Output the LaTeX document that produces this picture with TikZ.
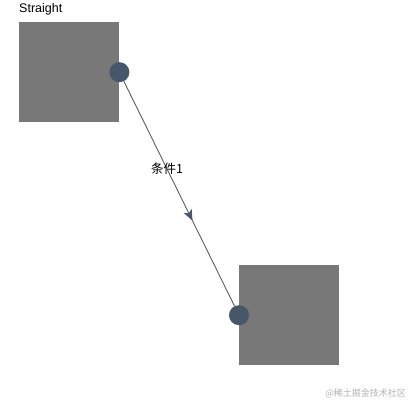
\documentclass[tikz,border=0pt]{standalone}
\usepackage{fontspec}
\setmainfont{Liberation Sans}
\newfontfamily\cjk{Noto Sans CJK SC}
\usetikzlibrary{arrows.meta,decorations.markings}
\definecolor{boxgray}{HTML}{787878}
\definecolor{portblue}{HTML}{48566A}
\definecolor{linkgray}{HTML}{5C5C66}
\tikzset{
  box/.style={rectangle, fill=boxgray, minimum size=100pt, inner sep=0pt, anchor=north west},
  port/.style={circle, fill=portblue, minimum size=20pt, inner sep=0pt},
  link/.style={linkgray, line width=0.9pt,
    postaction={decorate, decoration={markings,
      mark=at position 0.62 with {\arrow[portblue]{Stealth[length=11pt,width=9pt,inset=3pt]}}}}}
}
\begin{document}
\begin{tikzpicture}[x=1pt,y=-1pt]
  \useasboundingbox (0,0) rectangle (418,409);
  \node[anchor=base west, inner sep=0pt, font=\fontsize{12.5}{14}\selectfont] (title) at (19,12.5) {Straight};
  \node[box] (A) at (19,22) {};
  \node[box] (B) at (239,265) {};
  \node[port] (pA) at (A.east) {};
  \node[port] (pB) at (B.west) {};
  \draw[link] (pA) -- node[pos=0.39, text=black, font=\cjk\fontsize{12.5}{14}\selectfont, inner sep=0pt] (cond) {条件1} (pB);
  % watermark
  \node[anchor=base east, inner sep=0pt, text=black!30, font=\cjk\fontsize{9}{11}\selectfont] (mark) at (406,396) {@稀土掘金技术社区};
\end{tikzpicture}
\end{document}
